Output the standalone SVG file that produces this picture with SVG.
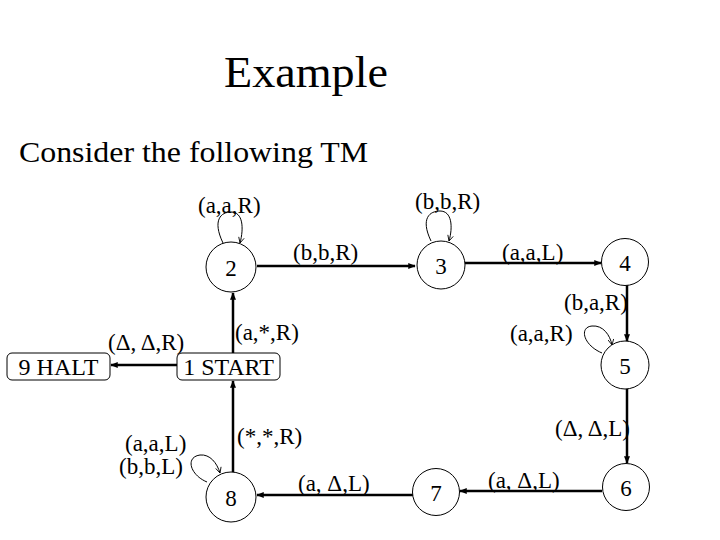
<svg xmlns="http://www.w3.org/2000/svg" width="720" height="540" viewBox="0 0 720 540">
<defs>
<style>
text { font-family: "Liberation Serif", "Times New Roman", serif; fill: #000; }
.lbl { font-size: 23px; }
.num { font-size: 23px; text-anchor: middle; }
.bl { font-size: 24px; text-anchor: middle; }
.state { fill: #fff; stroke: #000; stroke-width: 1; }
.box { fill: #fff; stroke: #000; stroke-width: 1; }
.edge { fill: none; stroke: #000; stroke-width: 2.5; marker-end: url(#arr); }
.loop { fill: none; stroke: #000; stroke-width: 1; marker-end: url(#varr); }
</style>
<marker id="arr" viewBox="0 0 10 10" refX="9" refY="5" markerWidth="3" markerHeight="3" orient="auto" markerUnits="strokeWidth">
<path d="M0,1 L10,5 L0,9 z" fill="#000"/>
</marker>
<marker id="varr" viewBox="0 0 10 10" refX="9" refY="5" markerWidth="7" markerHeight="7" orient="auto" markerUnits="strokeWidth">
<path d="M1,1 L9,5 L1,9" fill="none" stroke="#000" stroke-width="1.2"/>
</marker>
</defs>
<rect width="720" height="540" fill="#fff"/>
<text x="306" y="87" font-size="45" text-anchor="middle" textLength="164" lengthAdjust="spacingAndGlyphs">Example</text>
<text x="19" y="162" font-size="30" textLength="349" lengthAdjust="spacingAndGlyphs">Consider the following TM</text>

<g id="connectors">
<line class="edge" x1="233" y1="353" x2="233" y2="293"/>
<line class="edge" x1="177" y1="365" x2="111" y2="365"/>
<line class="edge" x1="257" y1="266" x2="415" y2="266"/>
<line class="edge" x1="465" y1="263" x2="601" y2="263"/>
<line class="edge" x1="627" y1="285" x2="627" y2="341"/>
<line class="edge" x1="627" y1="389" x2="627" y2="463"/>
<line class="edge" x1="602" y1="491" x2="460" y2="491"/>
<line class="edge" x1="413" y1="495" x2="257" y2="495"/>
<line class="edge" x1="233" y1="472" x2="233" y2="381"/>
<path class="loop" d="M223,243 C212,220 221,212 231,212 C243,212 244,228 240,243"/>
<path class="loop" d="M431,241 C420,218 430,211 440,211 C452,211 453,227 449,241"/>
<path class="loop" d="M602,353 C583,345 579,327 592,326 C603,325 610,335 612,345"/>
<path class="loop" d="M207,482 C190,475 185,457 200,455 C210,454 217,463 220,473"/>
<text class="lbl" x="198" y="213">(a,a,R)</text>
<text class="lbl" x="415" y="209">(b,b,R)</text>
<text class="lbl" x="293" y="260">(b,b,R)</text>
<text class="lbl" x="502" y="260">(a,a,L)</text>
<text class="lbl" x="564" y="310">(b,a,R)</text>
<text class="lbl" x="510" y="341">(a,a,R)</text>
<text class="lbl" x="555" y="436">(Δ, Δ,L)</text>
<text class="lbl" x="488" y="488">(a, Δ,L)</text>
<text class="lbl" x="298" y="491">(a, Δ,L)</text>
<text class="lbl" x="237" y="444">(*,*,R)</text>
<text class="lbl" x="125" y="451" font-size="20">(a,a,L)</text>
<text class="lbl" x="119" y="474" font-size="20">(b,b,L)</text>
<text class="lbl" x="235" y="340">(a,*,R)</text>
<text class="lbl" x="108" y="350">(Δ, Δ,R)</text>
</g>

<g id="node1"><rect class="box" x="177" y="353" width="103" height="27" rx="5"/><text class="bl" x="228.5" y="375">1 START</text></g>
<g id="node9"><rect class="box" x="7" y="353" width="103" height="27" rx="5"/><text class="bl" x="58.5" y="375">9 HALT</text></g>
<g id="node2"><circle class="state" cx="231" cy="267" r="25"/><text class="num" x="231" y="276">2</text></g>
<g id="node3"><circle class="state" cx="441" cy="265" r="24"/><text class="num" x="441" y="274">3</text></g>
<g id="node4"><circle class="state" cx="625" cy="262" r="23.5"/><text class="num" x="625" y="271">4</text></g>
<g id="node5"><circle class="state" cx="625" cy="365" r="24"/><text class="num" x="625" y="374">5</text></g>
<g id="node6"><circle class="state" cx="626" cy="487" r="23.5"/><text class="num" x="626" y="496">6</text></g>
<g id="node7"><circle class="state" cx="436" cy="492" r="23.5"/><text class="num" x="436" y="501">7</text></g>
<g id="node8"><circle class="state" cx="231" cy="497" r="25"/><text class="num" x="231" y="506">8</text></g>
</svg>
